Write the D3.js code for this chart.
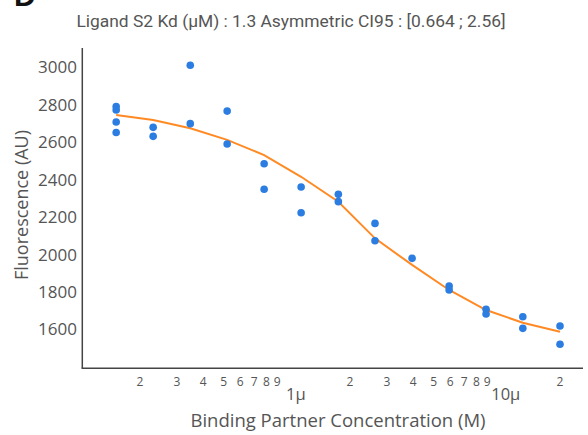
<!DOCTYPE html>
<html><head><meta charset="utf-8">
<script src="https://cdn.jsdelivr.net/npm/d3@7"></script>
<style>body{margin:0;background:#fff}svg{display:block}</style>
</head><body><svg id="c" width="588" height="435"></svg>
<script>
const concentrations = [1.54e-7, 2.31e-7, 3.47e-7, 5.20e-7, 7.80e-7, 1.17e-6, 1.76e-6, 2.63e-6, 3.95e-6, 5.93e-6, 8.89e-6, 1.33e-5, 2.0e-5];
const replicates = [
  [2790, 2772, 2708, 2652],
  [2679, 2631],
  [3011, 2699],
  [2766, 2590],
  [2485, 2348],
  [2360, 2223],
  [2321, 2282],
  [2166, 2073],
  [1979],
  [1831, 1810],
  [1707, 1682],
  [1667, 1605],
  [1618, 1520]
];
const fitValues = [2745, 2718, 2674, 2612, 2531, 2415, 2282, 2086, 1944, 1810, 1703, 1635, 1587];
const yTicks = [1600, 1800, 2000, 2200, 2400, 2600, 2800, 3000];
const minorTicks = [2e-7,3e-7,4e-7,5e-7,6e-7,7e-7,8e-7,9e-7,2e-6,3e-6,4e-6,5e-6,6e-6,7e-6,8e-6,9e-6,2e-5];
const minorLabels = ["2","3","4","5","6","7","8","9","2","3","4","5","6","7","8","9","2"];
const majorTicks = [1e-6, 1e-5];
const majorLabels = ["1μ", "10μ"];
const title = "Ligand S2 Kd (μM) : 1.3 Asymmetric CI95 : [0.664 ; 2.56]";

const svg = d3.select("#c");
const x = d3.scaleLog().domain([1e-7, 1e-5]).range([76.8, 496.8]);
const y = d3.scaleLinear().domain([1600, 3000]).range([329.3, 67.3]);
const pLeft = 82.3, pRight = 583, pTop = 48, pBottom = 368.3;
const txt = "#555";

// panel letter
svg.append("text").attr("x", 14).attr("y", 6).attr("font-family", "Liberation Sans, Arial, sans-serif")
  .attr("font-weight", "bold").attr("font-size", 30).attr("fill", "#111").text("D");

// title
svg.append("text").attr("x", 291).attr("y", 27).attr("text-anchor", "middle")
  .attr("font-family", "Roboto, sans-serif").attr("font-size", 17.4).attr("fill", txt).text(title);

// axes lines
svg.append("line").attr("x1", pLeft).attr("x2", pLeft).attr("y1", pTop).attr("y2", pBottom)
  .attr("stroke", "#444").attr("stroke-width", 1.5);
svg.append("line").attr("x1", pLeft - 0.75).attr("x2", pRight).attr("y1", pBottom).attr("y2", pBottom)
  .attr("stroke", "#444").attr("stroke-width", 1.5);

// y ticks
svg.append("g").selectAll("text").data(yTicks).join("text")
  .attr("x", 77).attr("y", d => y(d)).attr("dy", "0.36em").attr("text-anchor", "end")
  .attr("font-family", "Open Sans, sans-serif").attr("font-size", 17).attr("fill", txt).text(d => d);

// x minor labels
svg.append("g").selectAll("text").data(minorTicks).join("text")
  .attr("x", d => x(d)).attr("y", 386).attr("text-anchor", "middle")
  .attr("font-family", "Open Sans, sans-serif").attr("font-size", 12).attr("fill", txt)
  .text((d, i) => minorLabels[i]);
// x major labels
svg.append("g").selectAll("text").data(majorTicks).join("text")
  .attr("x", d => x(d) + 9).attr("y", 400).attr("text-anchor", "middle")
  .attr("font-family", "Open Sans, sans-serif").attr("font-size", 16.5).attr("fill", txt)
  .text((d, i) => majorLabels[i]);

// axis titles
svg.append("text").attr("x", 338).attr("y", 427).attr("text-anchor", "middle")
  .attr("font-family", "Open Sans, sans-serif").attr("font-size", 18.5).attr("fill", txt)
  .text("Binding Partner Concentration (M)");
svg.append("text").attr("transform", "translate(28,205) rotate(-90)").attr("text-anchor", "middle")
  .attr("font-family", "Open Sans, sans-serif").attr("font-size", 18).attr("fill", txt)
  .text("Fluorescence (AU)");

// fit line
const line = d3.line().x((d, i) => x(concentrations[i])).y(d => y(d));
svg.append("path").datum(fitValues).attr("d", line).attr("fill", "none")
  .attr("stroke", "#ff8a24").attr("stroke-width", 2);

// points
const pts = [];
replicates.forEach((arr, i) => arr.forEach(v => pts.push({c: concentrations[i], v})));
svg.append("g").selectAll("circle").data(pts).join("circle")
  .attr("cx", d => x(d.c)).attr("cy", d => y(d.v)).attr("r", 3.8).attr("fill", "#2b7de1");
</script></body></html>
